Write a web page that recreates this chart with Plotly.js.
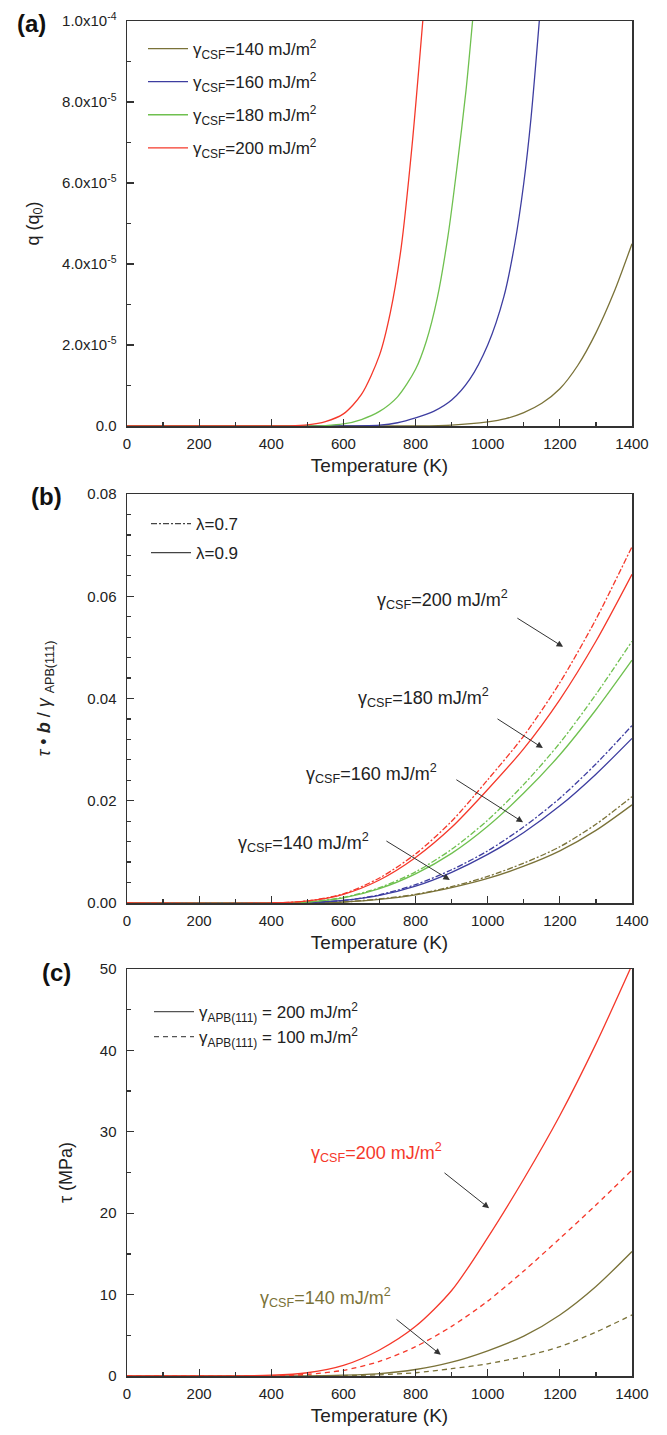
<!DOCTYPE html>
<html><head><meta charset="utf-8">
<script src="https://cdn.plot.ly/plotly-3.0.1.min.js"></script>
<style>html,body{margin:0;padding:0;background:#fff}</style>
</head><body><div id="chart" style="width:667px;height:1435px"></div>
<script>
// ---------- Panel (a): q (q0) vs temperature ----------
const a_T_200 = [0, 400, 450, 500, 550, 600, 650, 700, 730, 760, 790, 820];
const a_q_200 = [0, 0, 0.005e-5, 0.03e-5, 0.11e-5, 0.3e-5, 0.78e-5, 1.75e-5, 2.8e-5, 4.4e-5, 6.9e-5, 10e-5];
const a_T_180 = [0, 500, 550, 600, 650, 700, 750, 800, 830, 860, 890, 915, 940, 958];
const a_q_180 = [0, 0, 0.01e-5, 0.05e-5, 0.16e-5, 0.36e-5, 0.72e-5, 1.4e-5, 2.1e-5, 3.15e-5, 4.7e-5, 6.4e-5, 8.3e-5, 10e-5];
const a_T_160 = [0, 600, 700, 750, 800, 850, 900, 950, 1000, 1045, 1075, 1100, 1120, 1143];
const a_q_160 = [0, 0, 0.02e-5, 0.08e-5, 0.2e-5, 0.36e-5, 0.64e-5, 1.15e-5, 2.0e-5, 3.2e-5, 4.5e-5, 6.0e-5, 7.6e-5, 10e-5];
const a_T_140 = [0, 800, 900, 1000, 1050, 1100, 1150, 1200, 1250, 1300, 1350, 1400];
const a_q_140 = [0, 0, 0.02e-5, 0.1e-5, 0.18e-5, 0.33e-5, 0.56e-5, 0.92e-5, 1.5e-5, 2.3e-5, 3.3e-5, 4.5e-5];

// ---------- Panel (b): tau*b/gamma_APB vs temperature ----------
const b_T = [0, 400, 500, 600, 700, 800, 900, 1000, 1100, 1200, 1300, 1400];
const b_200_l09 = [0, 0, 0.0004, 0.0017, 0.0045, 0.0089, 0.0148, 0.0222, 0.0302, 0.0398, 0.0512, 0.0643];
const b_200_l07 = [0, 0, 0.0004, 0.0018, 0.0049, 0.0096, 0.0160, 0.0241, 0.0327, 0.0431, 0.0555, 0.0697];
const b_180_l09 = [0, 0, 0.0002, 0.0010, 0.0028, 0.0057, 0.0097, 0.0150, 0.0215, 0.0290, 0.0378, 0.0475];
const b_180_l07 = [0, 0, 0.0002, 0.0011, 0.0030, 0.0061, 0.0105, 0.0162, 0.0232, 0.0313, 0.0408, 0.0512];
const b_160_l09 = [0, 0, 0.0001, 0.0005, 0.0015, 0.0033, 0.0060, 0.0095, 0.0138, 0.0190, 0.0252, 0.0322];
const b_160_l07 = [0, 0, 0.0001, 0.0005, 0.0016, 0.0036, 0.0065, 0.0102, 0.0149, 0.0205, 0.0272, 0.0347];
const b_140_l09 = [0, 0, 0, 0.0002, 0.0007, 0.0016, 0.0030, 0.0048, 0.0072, 0.0102, 0.0142, 0.0192];
const b_140_l07 = [0, 0, 0, 0.0002, 0.0008, 0.0017, 0.0032, 0.0052, 0.0078, 0.0110, 0.0154, 0.0208];

// ---------- Panel (c): tau (MPa) vs temperature ----------
const c_T = [0, 400, 500, 600, 700, 800, 900, 1000, 1100, 1200, 1300, 1400];
const c_200_apb200 = [0, 0.1, 0.4, 1.3, 3.2, 6.1, 10.5, 17.0, 24.2, 32.0, 40.8, 50.5];
const c_200_apb100 = [0, 0, 0.2, 0.7, 1.8, 3.6, 6.1, 9.2, 12.9, 16.9, 21.0, 25.3];
const c_140_apb200 = [0, 0, 0, 0.1, 0.3, 0.8, 1.7, 3.1, 4.9, 7.5, 11.0, 15.3];
const c_140_apb100 = [0, 0, 0, 0.05, 0.15, 0.4, 0.9, 1.5, 2.4, 3.6, 5.4, 7.5];

const xTicks = [0, 200, 400, 600, 800, 1000, 1200, 1400];
const aTickVals = [0, 2e-5, 4e-5, 6e-5, 8e-5, 1e-4];
const aTickText = ['0.0', '2.0x10<sup>-5</sup>', '4.0x10<sup>-5</sup>', '6.0x10<sup>-5</sup>', '8.0x10<sup>-5</sup>', '1.0x10<sup>-4</sup>'];
const csfLabels = ['γ<sub>CSF</sub>=140 mJ/m<sup>2</sup>', 'γ<sub>CSF</sub>=160 mJ/m<sup>2</sup>', 'γ<sub>CSF</sub>=180 mJ/m<sup>2</sup>', 'γ<sub>CSF</sub>=200 mJ/m<sup>2</sup>'];
const lambdaLabels = ['λ=0.7', 'λ=0.9'];
const apbLabels = ['γ<sub>APB(111)</sub> = 200 mJ/m<sup>2</sup>', 'γ<sub>APB(111)</sub> = 100 mJ/m<sup>2</sup>'];

const C140 = '#7a7238', C160 = '#3d3da0', C180 = '#6fc04f', C200 = '#f5382a';
const FONT = 'Liberation Sans, Arial, sans-serif';
const AX = '#333';
const DD = '6px,2px,2px,2px';
const DA = '5px,4px';

function line(x, y, color, dash, xa, ya, extra) {
  return Object.assign({type:'scatter', mode:'lines', x, y, xaxis:xa, yaxis:ya, cliponaxis:true,
    line:{color, width:1.3, dash:dash||'solid', shape:'spline', smoothing:0.8}, showlegend:false, hoverinfo:'skip'}, extra||{});
}

const traces = [
  line(a_T_140, a_q_140, C140, null, 'x', 'y', {name:csfLabels[0], showlegend:true, legend:'legend', legendgroup:'a1'}),
  line(a_T_160, a_q_160, C160, null, 'x', 'y', {name:csfLabels[1], showlegend:true, legend:'legend', legendgroup:'a2'}),
  line(a_T_180, a_q_180, C180, null, 'x', 'y', {name:csfLabels[2], showlegend:true, legend:'legend', legendgroup:'a3'}),
  line(a_T_200, a_q_200, C200, null, 'x', 'y', {name:csfLabels[3], showlegend:true, legend:'legend', legendgroup:'a4'}),

  line(b_T, b_140_l07, C140, DD, 'x2', 'y2'), line(b_T, b_140_l09, C140, null, 'x2', 'y2'),
  line(b_T, b_160_l07, C160, DD, 'x2', 'y2'), line(b_T, b_160_l09, C160, null, 'x2', 'y2'),
  line(b_T, b_180_l07, C180, DD, 'x2', 'y2'), line(b_T, b_180_l09, C180, null, 'x2', 'y2'),
  line(b_T, b_200_l07, C200, DD, 'x2', 'y2'), line(b_T, b_200_l09, C200, null, 'x2', 'y2'),
  line([null], [null], '#444', DD, 'x2', 'y2', {name:lambdaLabels[0], showlegend:true, legend:'legend2', legendgroup:'b1'}),
  line([null], [null], '#444', null, 'x2', 'y2', {name:lambdaLabels[1], showlegend:true, legend:'legend2', legendgroup:'b2'}),

  line(c_T, c_140_apb100, C140, DA, 'x3', 'y3'), line(c_T, c_140_apb200, C140, null, 'x3', 'y3'),
  line(c_T, c_200_apb100, C200, DA, 'x3', 'y3'), line(c_T, c_200_apb200, C200, null, 'x3', 'y3'),
  line([null], [null], '#555', null, 'x3', 'y3', {name:apbLabels[0], showlegend:true, legend:'legend3', legendgroup:'c1'}),
  line([null], [null], '#555', DA, 'x3', 'y3', {name:apbLabels[1], showlegend:true, legend:'legend3', legendgroup:'c2'}),
];

function xax(anchor) {
  return {anchor, domain:[0,1], range:[0,1400], tickmode:'array', tickvals:xTicks,
    ticks:'inside', ticklen:7, tickwidth:1.2, tickcolor:AX,
    minor:{tickmode:'linear', tick0:0, dtick:100, ticks:'inside', ticklen:4, tickwidth:1.2, tickcolor:AX},
    showline:true, linecolor:AX, linewidth:1.5, mirror:true, showgrid:false, zeroline:false,
    tickfont:{size:15, color:'#222'}, ticklabelstandoff:3,
    title:{text:'Temperature (K)', font:{size:19, color:'#222'}, standoff:8}};
}
function yax(anchor, domain, range, extra) {
  return Object.assign({anchor, domain, range,
    ticks:'inside', ticklen:7, tickwidth:1.2, tickcolor:AX,
    showline:true, linecolor:AX, linewidth:1.5, mirror:true, showgrid:false, zeroline:false,
    tickfont:{size:15, color:'#222'}, ticklabelstandoff:6}, extra);
}
const minorY = (d) => ({tickmode:'linear', tick0:0, dtick:d, ticks:'inside', ticklen:4, tickwidth:1.2, tickcolor:AX});

const ann = [];
function label(txt, xa, ya, x, y, color) {
  ann.push({xref:xa, yref:ya, x, y, text:txt, showarrow:false, xanchor:'center', yanchor:'middle',
    font:{size:18, color:color||'#222'}});
}
function arrow(xa, ya, x0, y0, x1, y1) {
  ann.push({xref:xa, yref:ya, axref:xa, ayref:ya, x:x1, y:y1, ax:x0, ay:y0, text:'', showarrow:true,
    arrowhead:2, arrowsize:1.3, arrowwidth:1, arrowcolor:'#333'});
}
// panel (b)
label(csfLabels[3], 'x2', 'y2', 876, 0.0593);
arrow('x2', 'y2', 1078, 0.0559, 1209, 0.0501);
label(csfLabels[2], 'x2', 'y2', 821, 0.0401);
arrow('x2', 'y2', 1023, 0.0362, 1153, 0.0303);
label(csfLabels[1], 'x2', 'y2', 679, 0.0254);
arrow('x2', 'y2', 909, 0.0243, 1098, 0.0158);
label(csfLabels[0], 'x2', 'y2', 488, 0.0119);
arrow('x2', 'y2', 715, 0.0123, 895, 0.0045);
// panel (c)
label(csfLabels[3], 'x3', 'y3', 693, 27.4, C200);
arrow('x3', 'y3', 876, 25.1, 1004, 20.6);
label(csfLabels[0], 'x3', 'y3', 549, 9.7, C140);
arrow('x3', 'y3', 743, 7.1, 870, 2.6);
// panel letters
function letter(t, px, py) {
  ann.push({xref:'paper', yref:'paper', x:(px-127)/505, y:(1376-py)/1355, text:'<b>'+t+'</b>',
    showarrow:false, xanchor:'center', yanchor:'middle', font:{size:24, color:'#111'}});
}
letter('(a)', 31, 24);
letter('(b)', 46, 496);
letter('(c)', 56, 972);

function leg(px, py, gap) {
  return {x:(px-127)/505, y:(1376-py)/1355, xanchor:'left', yanchor:'top', bgcolor:'rgba(0,0,0,0)',
    borderwidth:0, font:{size:17, color:'#222'}, tracegroupgap:gap, itemwidth:40};
}

const layout = {
  width:667, height:1435, margin:{l:127, r:35, t:21, b:59},
  paper_bgcolor:'#fff', plot_bgcolor:'#fff', font:{family:FONT, color:'#222'},
  xaxis:xax('y'), xaxis2:xax('y2'), xaxis3:xax('y3'),
  yaxis:yax('x', [950/1355, 1], [0, 1e-4], {tickmode:'array', tickvals:aTickVals, ticktext:aTickText,
    minor:minorY(1e-5), title:{text:'q (q<sub>0</sub>)', font:{size:18}, standoff:18}}),
  yaxis2:yax('x2', [473/1355, 882/1355], [0, 0.08], {tickmode:'linear', tick0:0, dtick:0.02, tickformat:'.2f',
    minor:minorY(0.004), automargin:true, title:{text:'<i>τ</i> • <i><b>b</b></i> / <i>γ</i> <sub>APB(111)</sub>', font:{size:18}, standoff:32}}),
  yaxis3:yax('x3', [0, 407/1355], [0, 50], {tickmode:'linear', tick0:0, dtick:10,
    minor:minorY(5), title:{text:'τ (MPa)', font:{size:18}, standoff:22}}),
  legend:leg(143, 31, 8),
  legend2:leg(146, 506, 4),
  legend3:leg(149, 994, 0),
  annotations:ann,
};

Plotly.newPlot('chart', traces, layout, {displayModeBar:false, staticPlot:true});
</script></body></html>
